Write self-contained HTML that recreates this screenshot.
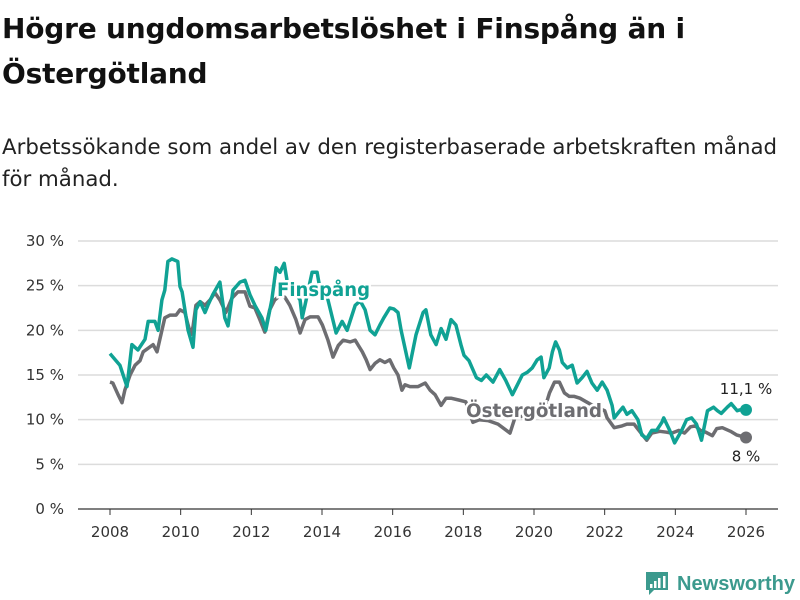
<!DOCTYPE html>
<html><head><meta charset="utf-8">
<style>
body{margin:0;background:#fff;font-family:"Liberation Sans","DejaVu Sans",sans-serif;}
#wrap{position:relative;width:800px;height:600px;overflow:hidden;}
h1{position:absolute;left:2px;top:6px;margin:0;font-size:28px;line-height:45px;font-weight:bold;color:#111;font-family:"DejaVu Sans","Liberation Sans",sans-serif;letter-spacing:-0.2px;}
#sub{position:absolute;left:2px;top:132px;margin:0;font-size:21.3px;line-height:32px;color:#222;font-family:"DejaVu Sans","Liberation Sans",sans-serif;}
svg{position:absolute;left:0;top:0;}
</style></head>
<body><div id="wrap">
<h1>Högre ungdomsarbetslöshet i Finspång än i<br>Östergötland</h1>
<p id="sub">Arbetssökande som andel av den registerbaserade arbetskraften månad<br>för månad.</p>
<svg id="chart" width="800" height="600"></svg>
</div>
<script>
const yTicks=[0,5,10,15,20,25,30];
const yTickLabels=["0 %","5 %","10 %","15 %","20 %","25 %","30 %"];
const xTicks=[2008,2010,2012,2014,2016,2018,2020,2022,2024,2026];
const finDates=[2008.00,2008.28,2008.48,2008.62,2008.79,2008.99,2009.08,2009.27,2009.36,2009.47,2009.55,2009.64,2009.75,2009.92,2009.98,2010.04,2010.21,2010.35,2010.43,2010.55,2010.69,2010.77,2010.91,2011.11,2011.25,2011.34,2011.48,2011.68,2011.82,2011.96,2012.10,2012.30,2012.41,2012.58,2012.70,2012.81,2012.93,2013.01,2013.38,2013.44,2013.52,2013.72,2013.86,2013.95,2014.17,2014.40,2014.57,2014.71,2014.94,2015.08,2015.22,2015.36,2015.50,2015.64,2015.75,2015.92,2016.03,2016.15,2016.24,2016.47,2016.66,2016.86,2016.94,2017.08,2017.23,2017.37,2017.51,2017.65,2017.79,2017.93,2018.02,2018.16,2018.37,2018.51,2018.65,2018.84,2019.03,2019.20,2019.39,2019.53,2019.67,2019.81,2019.95,2020.09,2020.20,2020.28,2020.43,2020.52,2020.61,2020.72,2020.80,2020.94,2021.08,2021.22,2021.36,2021.50,2021.64,2021.79,2021.93,2022.07,2022.21,2022.27,2022.41,2022.52,2022.63,2022.77,2022.94,2023.05,2023.19,2023.33,2023.47,2023.62,2023.67,2023.84,2023.98,2024.18,2024.32,2024.46,2024.60,2024.74,2024.91,2025.08,2025.19,2025.30,2025.47,2025.58,2025.75,2025.92,2026.00];
const finValues=[17.4,16.1,13.7,18.4,17.8,19.0,21.0,21.0,20.0,23.4,24.5,27.7,28.0,27.7,24.9,24.3,20.0,18.1,22.3,23.2,22.0,22.8,24.0,25.4,21.4,20.5,24.5,25.4,25.6,24.0,22.8,21.4,20.0,23.4,27.0,26.5,27.5,25.6,23.4,21.4,22.8,26.5,26.5,24.5,23.4,19.7,21.0,20.0,22.8,23.3,22.3,20.0,19.5,20.6,21.4,22.5,22.4,22.0,20.0,15.8,19.5,22.0,22.3,19.5,18.4,20.2,19.0,21.2,20.6,18.4,17.2,16.6,14.7,14.4,15.0,14.2,15.6,14.4,12.8,13.9,15.0,15.3,15.8,16.7,17.0,14.7,15.8,17.6,18.7,17.8,16.4,15.8,16.1,14.1,14.7,15.4,14.1,13.3,14.2,13.3,11.6,10.2,10.9,11.4,10.6,11.0,10.0,8.3,7.9,8.8,8.8,9.7,10.2,8.8,7.4,8.8,10.0,10.2,9.5,7.7,11.0,11.4,11.0,10.7,11.4,11.8,11.0,11.2,11.1];
const ostDates=[2008.00,2008.08,2008.23,2008.34,2008.42,2008.57,2008.71,2008.85,2008.94,2009.08,2009.22,2009.33,2009.47,2009.55,2009.70,2009.87,2009.98,2010.12,2010.21,2010.29,2010.35,2010.43,2010.55,2010.69,2010.83,2010.97,2011.11,2011.28,2011.45,2011.62,2011.82,2011.96,2012.10,2012.24,2012.38,2012.52,2012.66,2012.81,2012.95,2013.09,2013.26,2013.38,2013.52,2013.66,2013.89,2014.01,2014.17,2014.31,2014.46,2014.60,2014.80,2014.94,2015.03,2015.14,2015.25,2015.36,2015.50,2015.64,2015.78,2015.92,2016.03,2016.15,2016.26,2016.35,2016.49,2016.72,2016.92,2017.06,2017.20,2017.37,2017.51,2017.65,2017.87,2018.07,2018.27,2018.45,2018.70,2018.98,2019.32,2019.46,2019.80,2020.10,2020.30,2020.44,2020.58,2020.72,2020.86,2021.00,2021.14,2021.30,2021.70,2022.00,2022.07,2022.27,2022.49,2022.63,2022.83,2023.05,2023.19,2023.33,2023.56,2023.75,2023.90,2024.10,2024.26,2024.43,2024.57,2024.71,2024.86,2025.05,2025.17,2025.33,2025.56,2025.73,2026.00];
const ostValues=[14.2,14.1,12.8,11.9,13.3,15.0,16.1,16.6,17.6,18.0,18.4,17.6,20.0,21.4,21.7,21.7,22.3,22.0,20.6,19.5,20.4,22.8,23.2,22.8,23.4,24.2,23.4,22.0,23.6,24.3,24.3,22.7,22.5,21.2,19.8,22.3,23.4,23.9,23.7,22.8,21.2,19.7,21.2,21.5,21.5,20.6,18.9,17.0,18.3,18.9,18.7,18.9,18.3,17.6,16.7,15.6,16.3,16.7,16.4,16.7,15.8,15.0,13.3,13.9,13.7,13.7,14.1,13.3,12.8,11.6,12.4,12.4,12.2,12.0,9.7,10.0,9.9,9.5,8.5,10.2,10.5,11.0,11.2,13.0,14.2,14.2,13.0,12.6,12.6,12.4,11.5,11.0,10.2,9.1,9.3,9.5,9.5,8.4,7.7,8.5,8.7,8.6,8.5,8.8,8.5,9.2,9.3,8.8,8.6,8.2,9.0,9.1,8.7,8.3,8.0];
const finEndLabel="11,1 %", ostEndLabel="8 %";

const NS="http://www.w3.org/2000/svg";
const svg=document.getElementById('chart');
const X0=2008,X1=2026,PX0=110,PX1=746,PY0=509,PY1=241;
function xs(v){return PX0+(v-X0)/(X1-X0)*(PX1-PX0);}
function ys(v){return PY0-(v/30)*(PY0-PY1);}
function mk(t,a,txt){const e=document.createElementNS(NS,t);for(const k in a)e.setAttribute(k,a[k]);if(txt!==undefined)e.textContent=txt;svg.appendChild(e);return e;}
const F='"DejaVu Sans","Liberation Sans",sans-serif';
yTicks.forEach((t,i)=>{
  const g=mk('line',{x1:78,x2:778,y1:ys(t),y2:ys(t),stroke:t===0?'#333':'#dcdcdc','stroke-width':t===0?1.2:1.5});
  
  
  const l=mk('text',{x:64,y:ys(t)+5,'text-anchor':'end','font-size':15,fill:'#333','font-family':F},yTickLabels[i]);
  
  
});
xTicks.forEach(t=>{
  const tk=mk('line',{x1:xs(t),x2:xs(t),y1:PY0,y2:PY0+6,stroke:'#333','stroke-width':1});
  
  
  const l=mk('text',{x:xs(t),y:537,'text-anchor':'middle','font-size':15,fill:'#333','font-family':F},String(t));
  
  
});
function path(d,v){return d.map((x,i)=>(i?'L':'M')+xs(x).toFixed(1)+','+ys(v[i]).toFixed(1)).join('');}
const op=mk('path',{d:path(ostDates,ostValues),fill:'none',stroke:'#6d6d71','stroke-width':3.5,'stroke-linejoin':'round'});


const fp=mk('path',{d:path(finDates,finValues),fill:'none',stroke:'#10a294','stroke-width':3.5,'stroke-linejoin':'round'});


const lab1=mk('text',{x:277,y:296,'font-size':19,'font-weight':'bold',fill:'#10a294',stroke:'#fff','stroke-width':5,'paint-order':'stroke','font-family':'"DejaVu Sans",sans-serif',textLength:93,lengthAdjust:'spacingAndGlyphs'},'Finspång');


const lab2=mk('text',{x:466,y:417,'font-size':19,'font-weight':'bold',fill:'#6d6d71',stroke:'#fff','stroke-width':5,'paint-order':'stroke','font-family':'"DejaVu Sans",sans-serif',textLength:136,lengthAdjust:'spacingAndGlyphs'},'Östergötland');


const lf=finDates.length-1, lo=ostDates.length-1;
const d1=mk('circle',{cx:xs(finDates[lf]),cy:ys(finValues[lf]),r:6,fill:'#10a294'});


const d2=mk('circle',{cx:xs(ostDates[lo]),cy:ys(ostValues[lo]),r:6,fill:'#6d6d71'});


const e1=mk('text',{x:xs(finDates[lf]),y:ys(finValues[lf])-16,'text-anchor':'middle','font-size':15,fill:'#222','font-family':F},finEndLabel);


const e2=mk('text',{x:xs(ostDates[lo]),y:ys(ostValues[lo])+24,'text-anchor':'middle','font-size':15,fill:'#222','font-family':F},ostEndLabel);


const lg=mk('path',{d:'M646,572 h22 v18 h-14 l-5,5 v-5 h-3 z',fill:'#3c9a8e'});


[[650,584],[654,581],[658,578],[663,576]].forEach(b=>{mk('rect',{x:b[0],y:b[1],width:2.5,height:588-b[1],fill:'#fff'});});
const lt=mk('text',{x:677,y:590,'font-size':20,'font-weight':'bold',fill:'#3c9a8e','font-family':'"Liberation Sans",sans-serif',textLength:118,lengthAdjust:'spacingAndGlyphs'},'Newsworthy');


</script>
</body></html>
